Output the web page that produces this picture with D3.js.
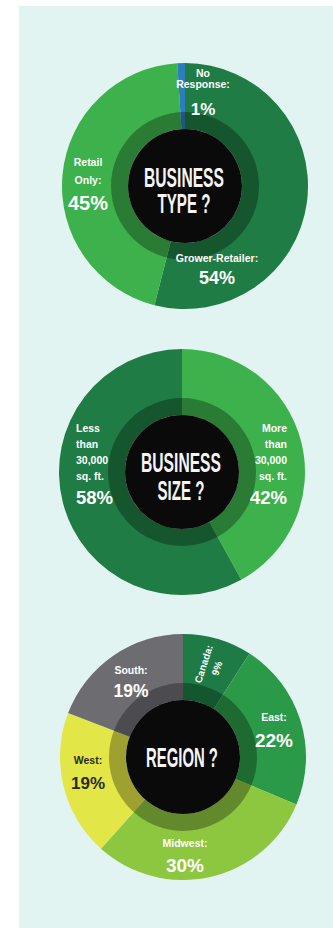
<!DOCTYPE html>
<html>
<head>
<meta charset="utf-8">
<script src="https://cdn.jsdelivr.net/npm/d3@7"></script>
<style>
  html, body { margin: 0; padding: 0; background: #fff; }
  svg { display: block; }
  text { font-family: "Liberation Sans", Arial, sans-serif; font-weight: bold; }
</style>
</head>
<body>
<div id="app"></div>
<script>
// data
var typeNames = ["Grower-Retailer", "Retail Only", "No Response"];
var typeValues = [54, 45, 1];
var sizeNames = ["More than 30,000 sq. ft.", "Less than 30,000 sq. ft."];
var sizeValues = [42, 58];
var regionNames = ["Canada", "East", "Midwest", "West", "South"];
var regionValues = [9, 22, 30, 19, 19];

var svgWidth = 333, svgHeight = 928;
var rOuter = 123, rRing = 74, rHole = 57;

var svg = d3.select("#app").append("svg")
    .attr("width", svgWidth)
    .attr("height", svgHeight);

svg.append("rect")                                  // mint panel
    .attr("x", 19).attr("y", 6)
    .attr("width", svgWidth - 19).attr("height", svgHeight - 6)
    .attr("fill", "#e2f4f1");

var pie = d3.pie().sort(null).value(function(d){ return d; });
var sliceArc = d3.arc().innerRadius(rHole).outerRadius(rOuter);

function donut(cx, cy, names, values, colors, title, labels) {
    var g = svg.append("g").attr("transform", "translate(" + cx + "," + cy + ")");
    var color = d3.scaleOrdinal().domain(names).range(colors);
    var arcs = pie(values);

    g.selectAll("path.slice")
        .data(arcs)
        .enter().append("path")
        .attr("class", "slice")
        .attr("d", sliceArc)
        .attr("fill", function(d, i){ return color(names[i]); });

    // darker inner ring
    g.append("path")
        .attr("d", d3.arc().innerRadius(rHole).outerRadius(rRing).startAngle(0).endAngle(2 * Math.PI)())
        .attr("fill", "#000")
        .attr("opacity", 0.3);

    g.append("circle").attr("r", rHole).attr("fill", "#0a0a0a");

    // centre question, squeezed to a condensed look
    title.forEach(function(t){
        var tx = g.append("text")
            .attr("text-anchor", "middle")
            .attr("font-size", 28)
            .attr("fill", "#f4f4f4")
            .text(t.text);
        var len = tx.node().getComputedTextLength();
        tx.attr("transform", "translate(-1," + t.y + ") scale(" + (t.w / len) + ",1)");
    });

    // slice labels
    labels.forEach(function(lb){
        var lg = g.append("g")
            .attr("transform", "translate(" + lb.x + "," + lb.y + ")" + (lb.rotate ? " rotate(" + lb.rotate + ")" : ""));
        var lines = lb.lines.slice();
        if (lb.colon !== false) lines[lines.length - 1] += ":";
        var y = 0;
        lines.forEach(function(l){
            lg.append("text")
                .attr("y", y)
                .attr("text-anchor", lb.anchor)
                .attr("font-size", lb.small || 10.5)
                .attr("fill", lb.fill || "#fff")
                .text(l);
            y += lb.lh || 11;
        });
        lg.append("text")
            .attr("y", y + (lb.gap || 14))
            .attr("text-anchor", lb.anchor)
            .attr("font-size", lb.big)
            .attr("fill", lb.fill || "#fff")
            .text(values[lb.i] + "%");
    });
}

donut(185, 186, typeNames, typeValues, ["#1f7c44", "#3db14b", "#2b7dbd"],
    [{text: "BUSINESS", y: 1, w: 80}, {text: "TYPE ?", y: 27, w: 53}],
    [
        {i: 0, x: 32, y: 76, anchor: "middle", lines: ["Grower-Retailer"], big: 18, gap: 11},
        {i: 1, x: -97, y: -20, anchor: "middle", lines: ["Retail", "Only"], big: 20, lh: 18, gap: 8},
        {i: 2, x: 18, y: -109, anchor: "middle", lines: ["No", "Response"], big: 17, gap: 16}
    ]);

donut(182, 472, sizeNames, sizeValues, ["#3db14b", "#1f7c44"],
    [{text: "BUSINESS", y: 0, w: 80}, {text: "SIZE ?", y: 28, w: 47}],
    [
        {i: 0, x: 105, y: -40, anchor: "end", lines: ["More", "than", "30,000", "sq. ft."], colon: false, big: 18.5, lh: 16, gap: 8},
        {i: 1, x: -106, y: -40, anchor: "start", lines: ["Less", "than", "30,000", "sq. ft."], colon: false, big: 18.5, lh: 16, gap: 8}
    ]);

donut(183, 757, regionNames, regionValues, ["#1e7b45", "#2b9a48", "#8dc63f", "#e2e646", "#6d6c71"],
    [{text: "REGION ?", y: 10, w: 72}],
    [
        {i: 0, x: 24, y: -92, rotate: -72, anchor: "middle", lines: ["Canada"], big: 10, small: 10, gap: 3},
        {i: 1, x: 91, y: -36, anchor: "middle", lines: ["East"], big: 19, gap: 15},
        {i: 2, x: 2, y: 90, anchor: "middle", lines: ["Midwest"], big: 19, gap: 14},
        {i: 3, x: -95, y: 7, anchor: "middle", lines: ["West"], big: 17, gap: 14, fill: "#2a2a1c"},
        {i: 4, x: -52, y: -83, anchor: "middle", lines: ["South"], big: 17.5, gap: 12}
    ]);
</script>
</body>
</html>
